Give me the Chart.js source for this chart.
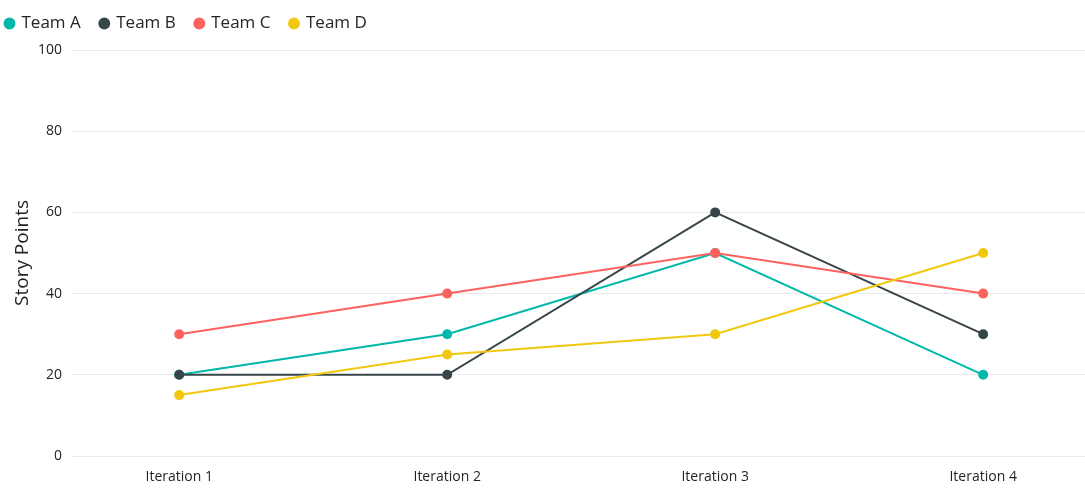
<!DOCTYPE html>
<html>
<head>
<meta charset="utf-8">
<script src="https://cdn.jsdelivr.net/npm/chart.js@4/dist/chart.umd.min.js"></script>
<style>
  html, body { margin: 0; padding: 0; background: #fff; overflow: hidden; }
  #wrap { width: 1085px; height: 489px; }
  canvas { display: block; }
</style>
</head>
<body>
<div id="wrap"><canvas id="chart" width="1085" height="489"></canvas></div>
<script>
// ── Data ───────────────────────────────────────
const iterations = ['Iteration 1', 'Iteration 2', 'Iteration 3', 'Iteration 4'];
const teamA = [20, 30, 50, 20];
const teamB = [20, 20, 60, 30];
const teamC = [30, 40, 50, 40];
const teamD = [15, 25, 30, 50];
const yTicks = [0, 20, 40, 60, 80, 100];

const FONT = "'Segoe UI', 'Open Sans', 'Noto Sans', sans-serif";
const TEXT = '#252423';

function toPoints(values) {
  return values.map((v, i) => ({ x: i + 1, y: v }));
}

// later series are painted on top, like the original
function lineSeries(label, values, color, layer) {
  return {
    label,
    data: toPoints(values),
    order: 10 - layer,
    borderColor: color,
    backgroundColor: color,
    pointBackgroundColor: color,
    pointBorderColor: color,
    borderWidth: 2,
    pointRadius: 4,
    pointHoverRadius: 5,
    tension: 0,
    fill: false,
  };
}

// fixed legend band height, legend nudged to the left edge
const legendPlace = {
  id: 'legendPlace',
  afterInit(chart) {
    const legend = chart.legend;
    if (!legend) return;
    const fit = legend.fit;
    legend.fit = function () {
      fit.call(this);
      this.height = 55;
    };
  },
  afterLayout(chart) {
    if (chart.legend) chart.legend.left -= 14;
  },
};

const ctx = document.getElementById('chart').getContext('2d');
new Chart(ctx, {
  type: 'line',
  data: {
    datasets: [
      lineSeries('Team A', teamA, '#01B8AA', 0),
      lineSeries('Team B', teamB, '#374649', 1),
      lineSeries('Team C', teamC, '#FD625E', 2),
      lineSeries('Team D', teamD, '#F2C80F', 3),
    ],
  },
  plugins: [legendPlace],
  options: {
    responsive: false,
    animation: false,
    layout: { autoPadding: false, padding: { left: 0, right: 0, top: -5, bottom: 0 } },
    plugins: {
      legend: {
        position: 'top',
        align: 'start',
        labels: {
          usePointStyle: true,
          pointStyle: 'circle',
          boxWidth: 7,
          boxHeight: 7,
          padding: 20,
          color: TEXT,
          font: { family: FONT, size: 17 },
          sort: (a, b) => a.datasetIndex - b.datasetIndex,
        },
      },
      tooltip: { enabled: false },
    },
    scales: {
      x: {
        type: 'linear',
        min: 0.6,
        max: 4.38,
        afterBuildTicks: scale => {
          scale.ticks = iterations.map((_, i) => ({ value: i + 1 }));
        },
        afterFit: scale => {
          scale.height = 33;
          scale.paddingLeft = 0;
          scale.paddingRight = 0;
        },
        ticks: {
          color: TEXT,
          font: { family: FONT, size: 14, lineHeight: 1.9 },
          padding: 0,
          maxRotation: 0,
          callback: v => iterations[v - 1] || '',
        },
        grid: { display: false },
        border: { display: false },
      },
      y: {
        min: 0,
        max: 100,
        afterBuildTicks: scale => {
          scale.ticks = yTicks.map(v => ({ value: v }));
        },
        afterFit: scale => { scale.width = 72; },
        ticks: {
          color: TEXT,
          font: { family: FONT, size: 14 },
          padding: 10,
        },
        title: {
          display: true,
          text: 'Story Points',
          color: TEXT,
          font: { family: FONT, size: 19 },
          padding: { top: 11, bottom: 0 },
        },
        grid: { color: '#EAEAEA', drawTicks: false, lineWidth: 1 },
        border: { display: false },
      },
    },
  },
});
</script>
</body>
</html>
